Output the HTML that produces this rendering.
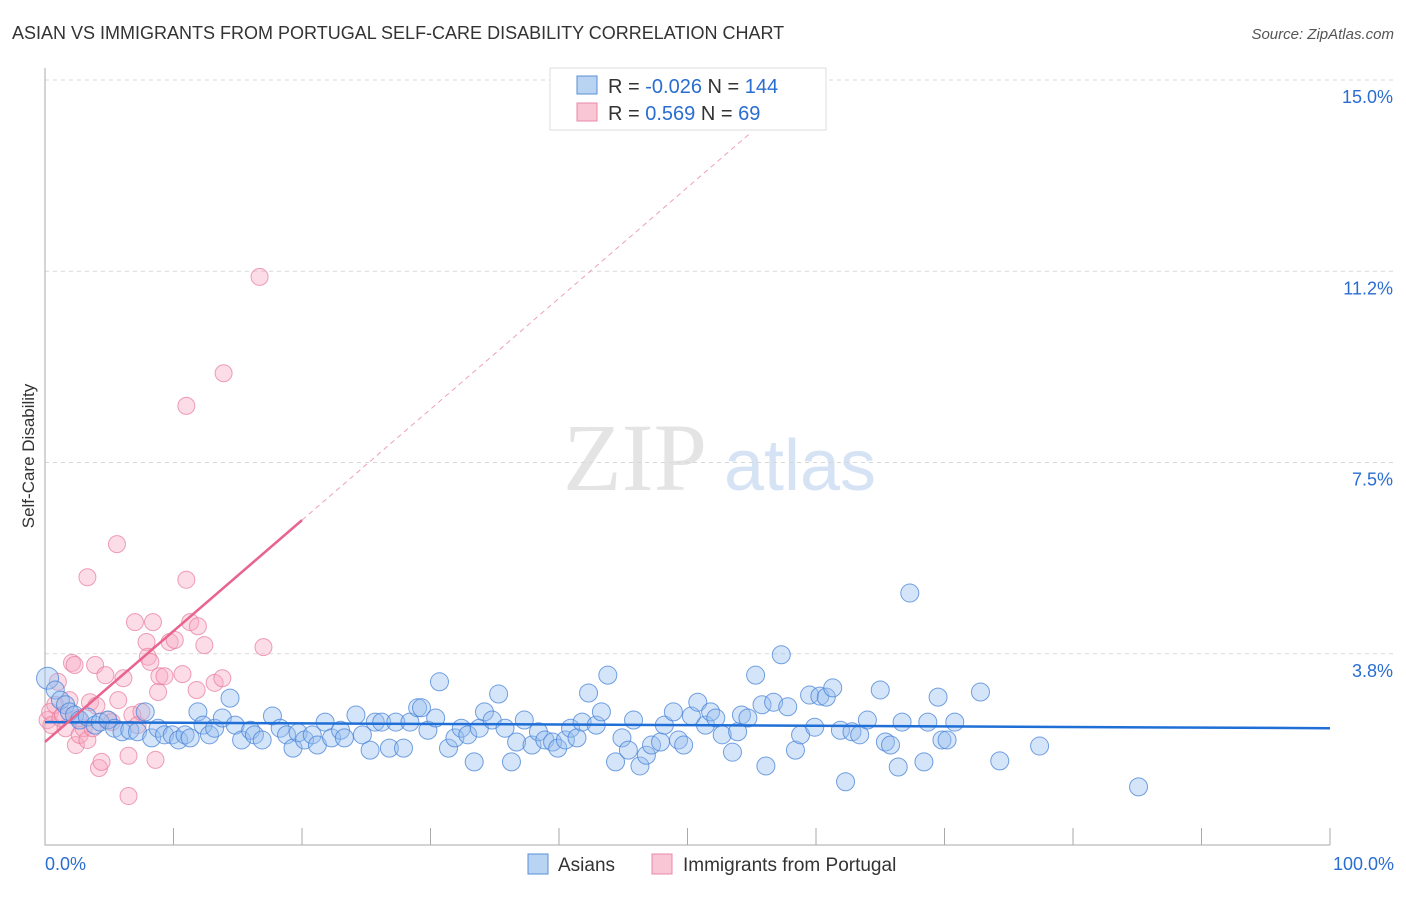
<!DOCTYPE html>
<html><head><meta charset="utf-8"><style>
body{margin:0;background:#fff;font-family:"Liberation Sans",sans-serif}
</style></head><body>
<svg id="c" width="1406" height="892" xmlns="http://www.w3.org/2000/svg" font-family="Liberation Sans, sans-serif">
<text x="12" y="39" font-size="18" fill="#333">ASIAN VS IMMIGRANTS FROM PORTUGAL SELF-CARE DISABILITY CORRELATION CHART</text>
<text x="1394" y="39" font-size="15" fill="#555" font-style="italic" text-anchor="end">Source: ZipAtlas.com</text>
<text x="34" y="456" font-size="17" fill="#333" text-anchor="middle" transform="rotate(-90 34 456)">Self-Care Disability</text>
<g><text x="635" y="490" font-size="96" fill="#e4e4e4" font-family="Liberation Serif, serif" text-anchor="middle">ZIP</text><text x="800" y="490" font-size="72" fill="#d5e3f5" text-anchor="middle">atlas</text></g>
<g id="grid"></g><g id="axes"></g><g id="marks"></g><g id="trend"></g>
<g>
<rect x="550" y="68" width="276" height="62" fill="#fff" stroke="#ddd"/>
<rect x="577" y="76" width="20" height="18" fill="#b9d3f3" stroke="#5b8fd6"/>
<rect x="577" y="103" width="20" height="18" fill="#f9c6d6" stroke="#e88aa8"/>
<text x="608" y="93" font-size="20" fill="#333">R = <tspan fill="#2a6dd1">-0.026</tspan>   N = <tspan fill="#2a6dd1">144</tspan></text>
<text x="608" y="120" font-size="20" fill="#333">R =   <tspan fill="#2a6dd1">0.569</tspan>   N =   <tspan fill="#2a6dd1">69</tspan></text>
</g>
<g>
<rect x="528" y="854" width="20" height="20" fill="#b9d3f3" stroke="#5b8fd6"/>
<text x="558" y="871" font-size="19" fill="#333">Asians</text>
<rect x="652" y="854" width="20" height="20" fill="#f9c6d6" stroke="#e88aa8"/>
<text x="683" y="871" font-size="19" fill="#333">Immigrants from Portugal</text>
</g>
</svg>
<script>
const yTicks=[15.0,11.25,7.5,3.75];
const yTickLabels=["15.0%","11.2%","7.5%","3.8%"];
const xTickLabels=["0.0%","100.0%"];
const asiansX=[0.2,0.8,1.2,1.6,1.9,2.3,2.7,3.3,3.9,4.3,4.9,5.4,6.0,6.6,7.2,7.8,8.3,8.8,9.3,9.9,10.4,10.9,11.3,11.9,12.3,12.8,13.2,13.8,14.4,14.8,15.3,16.0,16.3,16.9,17.7,18.3,18.8,19.3,19.7,20.2,20.8,21.2,21.8,22.3,23.0,23.3,24.2,24.7,25.3,25.7,26.2,26.8,27.3,27.9,28.4,29.0,29.3,29.8,30.4,30.7,31.4,31.9,32.4,32.9,33.4,33.8,34.2,34.8,35.3,35.8,36.3,36.7,37.3,37.9,38.4,38.9,39.5,39.9,40.5,40.9,41.4,41.8,42.3,42.9,43.3,43.8,44.4,44.9,45.4,45.8,46.3,46.8,47.2,47.9,48.2,48.9,49.3,49.7,50.3,50.8,51.4,51.8,52.2,52.7,53.5,53.9,54.2,54.7,55.3,55.8,56.1,56.7,57.3,57.8,58.4,58.8,59.5,59.9,60.3,60.8,61.3,61.9,62.3,62.8,63.4,64.0,65.0,65.4,65.8,66.4,66.7,67.3,68.4,68.7,69.5,69.8,70.2,70.8,72.8,74.3,77.4,85.1];
const asiansY=[3.27,3.04,2.84,2.75,2.61,2.55,2.45,2.51,2.35,2.41,2.45,2.29,2.22,2.25,2.22,2.61,2.10,2.29,2.16,2.16,2.06,2.16,2.10,2.61,2.35,2.16,2.29,2.49,2.88,2.35,2.06,2.25,2.16,2.06,2.53,2.29,2.16,1.90,2.20,2.06,2.16,1.96,2.41,2.10,2.25,2.10,2.55,2.16,1.86,2.41,2.41,1.90,2.41,1.90,2.41,2.69,2.69,2.25,2.49,3.20,1.90,2.10,2.29,2.16,1.63,2.29,2.61,2.45,2.96,2.29,1.63,2.02,2.45,1.96,2.22,2.06,2.02,1.90,2.06,2.29,2.10,2.41,2.98,2.35,2.61,3.33,1.63,2.10,1.86,2.45,1.55,1.76,1.96,2.02,2.35,2.61,2.06,1.96,2.53,2.80,2.35,2.61,2.49,2.16,1.82,2.22,2.55,2.49,3.33,2.75,1.55,2.80,3.73,2.71,1.86,2.16,2.94,2.31,2.92,2.90,3.08,2.25,1.24,2.22,2.16,2.45,3.04,2.02,1.96,1.53,2.41,4.94,1.63,2.41,2.90,2.06,2.06,2.41,3.00,1.65,1.94,1.14];
const portX=[0.2,0.4,0.5,0.8,1.0,1.2,1.4,1.6,1.9,2.1,2.3,2.4,2.6,2.7,3.0,3.3,3.3,3.5,3.7,3.9,4.0,4.2,4.4,4.7,4.9,5.2,5.6,5.7,6.1,6.5,6.5,6.8,7.0,7.2,7.5,7.9,8.0,8.2,8.4,8.6,8.8,8.9,9.3,9.7,10.1,10.7,11.0,11.0,11.3,11.8,11.9,12.4,13.2,13.8,13.9,16.7,17.0];
const portY=[2.45,2.61,2.35,2.75,3.20,2.49,2.55,2.29,2.84,3.57,3.53,1.96,2.49,2.16,2.29,5.25,2.06,2.80,2.29,3.53,2.73,1.51,1.63,3.33,2.45,2.41,5.90,2.84,3.27,1.75,0.96,2.55,4.37,2.35,2.61,3.98,3.69,3.59,4.37,1.67,3.00,3.31,3.31,3.98,4.02,3.35,5.20,8.61,4.37,3.04,4.29,3.92,3.18,3.27,9.25,11.14,3.88];
const asiansTrend=[2.41,2.29];
const portTrend=[2.02,6.37];
const NS="http://www.w3.org/2000/svg";
const X=v=>45+v*12.85, Y=v=>845-v*51.0;
function mk(t,a,p){const e=document.createElementNS(NS,t);for(const k in a)e.setAttribute(k,a[k]);p.appendChild(e);return e;}
const grid=document.getElementById('grid'),axes=document.getElementById('axes'),marks=document.getElementById('marks'),trend=document.getElementById('trend');
yTicks.forEach((v,i)=>{
 const l=mk('line',{x1:45,x2:1394,y1:Y(v),y2:Y(v),stroke:'#d8d8d8','stroke-dasharray':'4 4'},grid);
 
 
 const t=mk('text',{x:1393,y:Y(v)+23,'font-size':18,fill:'#2a6dd1','text-anchor':'end'},axes);
 t.textContent=yTickLabels[i];
 
 
});
const ax=mk('path',{d:'M45 68V845H1330',stroke:'#aaa',fill:'none'},axes);


for(let i=1;i<=10;i++){const tk=mk('line',{x1:X(i*10),x2:X(i*10),y1:828,y2:845,stroke:'#aaa'},axes);
 
 }
[[45,'start',0],[1394,'end',1]].forEach(([x,a,i])=>{const t=mk('text',{x:x,y:870,'font-size':18,fill:'#2a6dd1','text-anchor':a},axes);t.textContent=xTickLabels[i];
 
 });
portX.forEach((v,i)=>{const c=mk('circle',{cx:X(v),cy:Y(portY[i]),r:8.5,fill:'rgba(247,170,195,0.4)',stroke:'rgba(232,120,155,0.7)','stroke-width':1},marks);
 
 });
asiansX.forEach((v,i)=>{const c=mk('circle',{cx:X(v),cy:Y(asiansY[i]),r:v<0.5?11:9,fill:'rgba(150,190,240,0.4)',stroke:'rgba(70,130,215,0.75)','stroke-width':1},marks);
 
 });
const bt=mk('line',{x1:X(0),x2:X(100),y1:Y(asiansTrend[0]),y2:Y(asiansTrend[1]),stroke:'#1f6fd6','stroke-width':2.5},trend);


const sl=(portTrend[1]-portTrend[0])/20;
const pt=mk('line',{x1:X(0),x2:X(20),y1:Y(portTrend[0]),y2:Y(portTrend[1]),stroke:'#e8648e','stroke-width':2.5},trend);


const pd=mk('line',{x1:X(20),x2:X(55),y1:Y(portTrend[1]),y2:Y(portTrend[0]+sl*55),stroke:'#eea0b8','stroke-width':1,'stroke-dasharray':'5 4'},trend);


</script>
</body></html>
